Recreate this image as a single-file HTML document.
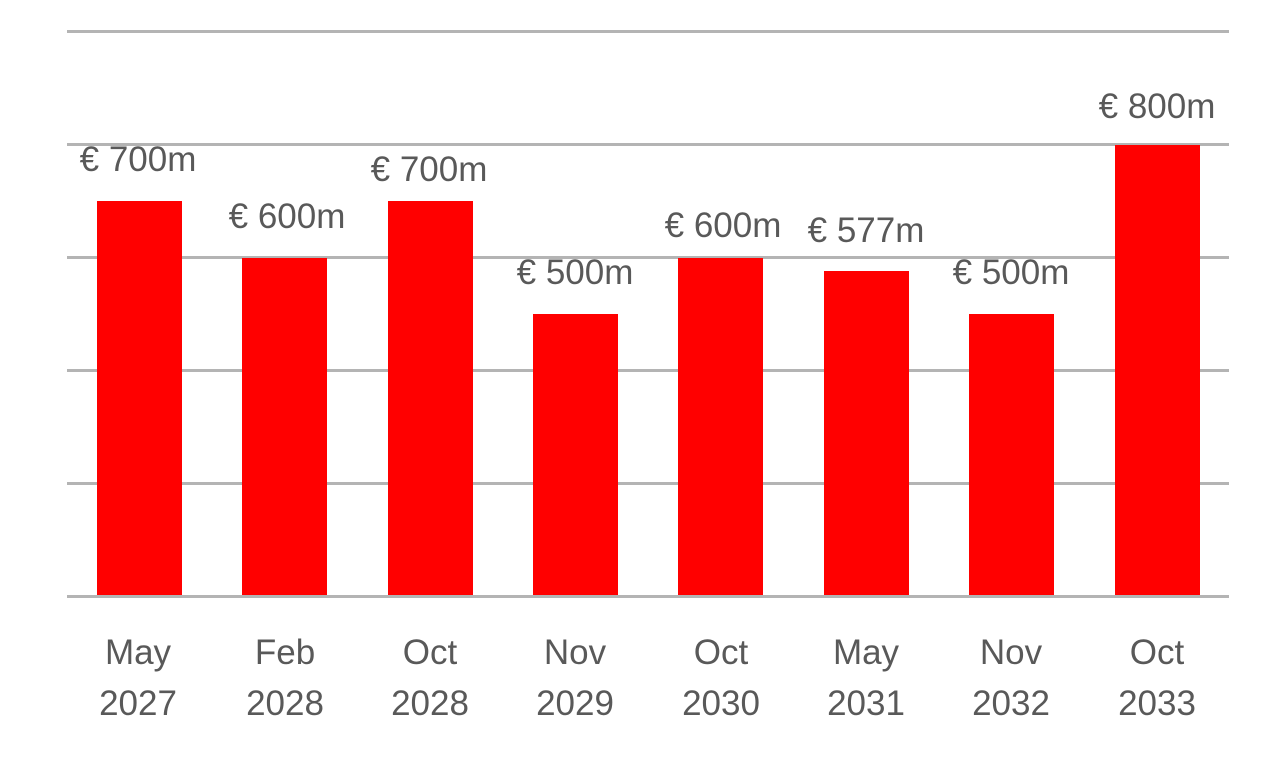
<!DOCTYPE html>
<html><head><style>
body{margin:0;background:#fff;width:1280px;height:765px;overflow:hidden;position:relative;font-family:"Liberation Sans",sans-serif;color:#595959}
.g{position:absolute;left:67px;width:1162px;height:3px;background:#b4b4b4}
.b{position:absolute;background:#ff0000;width:85px}
.l{position:absolute;width:200px;text-align:center;font-size:35px;line-height:36px;white-space:nowrap}
.x{position:absolute;width:160px;text-align:center;font-size:35px;line-height:51px}
</style></head><body>
<div class="g" style="top:30px"></div>
<div class="g" style="top:143px"></div>
<div class="g" style="top:256px"></div>
<div class="g" style="top:369px"></div>
<div class="g" style="top:482px"></div>
<div class="b" style="left:97px;top:201px;height:396px"></div>
<div class="b" style="left:242px;top:258px;height:339px"></div>
<div class="b" style="left:388px;top:201px;height:396px"></div>
<div class="b" style="left:533px;top:314px;height:283px"></div>
<div class="b" style="left:678px;top:258px;height:339px"></div>
<div class="b" style="left:824px;top:271px;height:326px"></div>
<div class="b" style="left:969px;top:314px;height:283px"></div>
<div class="b" style="left:1115px;top:145px;height:452px"></div>
<div class="g" style="top:595px"></div>
<div class="l" style="left:38px;top:142px">€ 700m</div>
<div class="l" style="left:187px;top:199px">€ 600m</div>
<div class="l" style="left:329px;top:152px">€ 700m</div>
<div class="l" style="left:475px;top:255px">€ 500m</div>
<div class="l" style="left:623px;top:208px">€ 600m</div>
<div class="l" style="left:766px;top:213px">€ 577m</div>
<div class="l" style="left:911px;top:255px">€ 500m</div>
<div class="l" style="left:1057px;top:89px">€ 800m</div>
<div class="x" style="left:58px;top:627px">May<br>2027</div>
<div class="x" style="left:205px;top:627px">Feb<br>2028</div>
<div class="x" style="left:350px;top:627px">Oct<br>2028</div>
<div class="x" style="left:495px;top:627px">Nov<br>2029</div>
<div class="x" style="left:641px;top:627px">Oct<br>2030</div>
<div class="x" style="left:786px;top:627px">May<br>2031</div>
<div class="x" style="left:931px;top:627px">Nov<br>2032</div>
<div class="x" style="left:1077px;top:627px">Oct<br>2033</div>
</body></html>
